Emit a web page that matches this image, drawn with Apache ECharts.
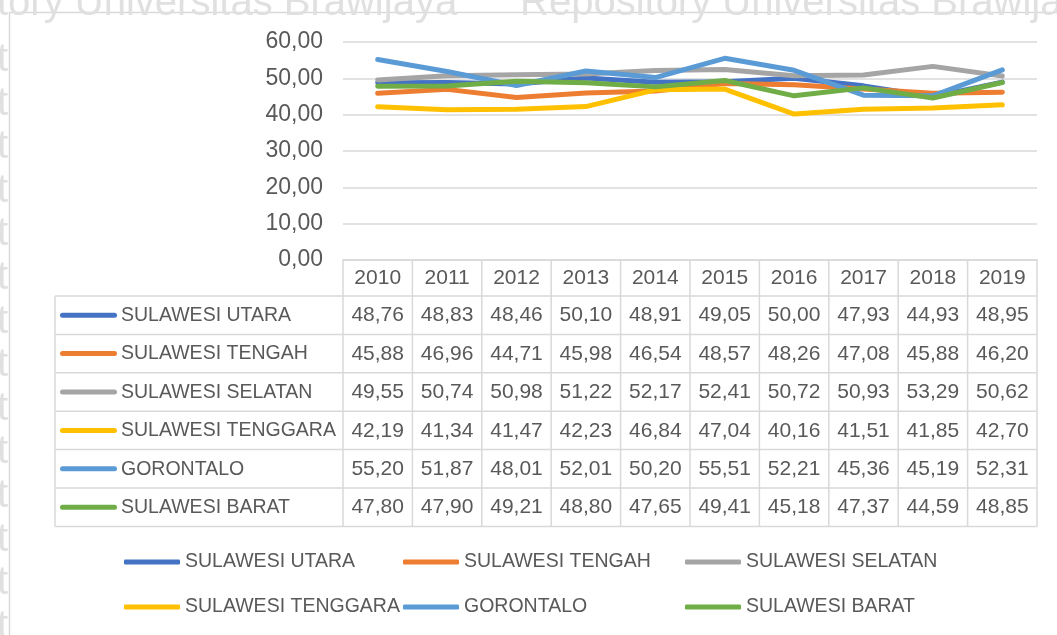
<!DOCTYPE html>
<html>
<head>
<meta charset="utf-8">
<script src="https://cdn.jsdelivr.net/npm/echarts@6/dist/echarts.min.js"></script>
<style>html,body{margin:0;padding:0;background:#fff;}#c{width:1057px;height:635px;}</style>
</head>
<body>
<div id="c"></div>
<script>
// ---- data ----
const years = ['2010','2011','2012','2013','2014','2015','2016','2017','2018','2019'];
const seriesNames = ['SULAWESI UTARA','SULAWESI TENGAH','SULAWESI SELATAN','SULAWESI TENGGARA','GORONTALO','SULAWESI BARAT'];
const sulawesiUtara    = [48.76, 48.83, 48.46, 50.10, 48.91, 49.05, 50.00, 47.93, 44.93, 48.95];
const sulawesiTengah   = [45.88, 46.96, 44.71, 45.98, 46.54, 48.57, 48.26, 47.08, 45.88, 46.20];
const sulawesiSelatan  = [49.55, 50.74, 50.98, 51.22, 52.17, 52.41, 50.72, 50.93, 53.29, 50.62];
const sulawesiTenggara = [42.19, 41.34, 41.47, 42.23, 46.84, 47.04, 40.16, 41.51, 41.85, 42.70];
const gorontalo        = [55.20, 51.87, 48.01, 52.01, 50.20, 55.51, 52.21, 45.36, 45.19, 52.31];
const sulawesiBarat    = [47.80, 47.90, 49.21, 48.80, 47.65, 49.41, 45.18, 47.37, 44.59, 48.85];
const yTicks = [0, 10, 20, 30, 40, 50, 60];
const watermarkTop = ['tory Universitas Brawijaya', 'Repository Universitas Brawijaya'];

const seriesValues = [sulawesiUtara, sulawesiTengah, sulawesiSelatan, sulawesiTenggara, gorontalo, sulawesiBarat];
const colors = ['#4472C4','#ED7D31','#A5A5A5','#FFC000','#5B9BD5','#70AD47'];

// ---- layout ----
const FAM = "'Liberation Sans', Arial, sans-serif";
const TXT = '#595959';
const LINE = '#d9d9d9';
const WM = '#e0e0e0';
const GRID_LEFT = 343, GRID_RIGHT_X = 1037, GRID_TOP = 42, GRID_H = 218;
const GRID_BOTTOM_Y = GRID_TOP + GRID_H;
const TABLE_LEFT = 55, TABLE_TOP = 296, ROW_H = 38.4;
const colW = (GRID_RIGHT_X - GRID_LEFT) / years.length;
const TABLE_BOTTOM = TABLE_TOP + ROW_H * seriesNames.length;
const fmt = v => v.toFixed(2).replace('.', ',');

const g = [];
// watermark
g.push({type:'text', x:-3, y:4, silent:true, style:{text:watermarkTop[0], font:'40px ' + FAM, fill:WM, textVerticalAlign:'middle'}});
g.push({type:'text', x:520, y:4, silent:true, style:{text:watermarkTop[1], font:'40px ' + FAM, fill:WM, textVerticalAlign:'middle'}});
for (let k = 0; k < 14; k++) {
  g.push({type:'text', x:-3, y:60 + 43.6*k, silent:true, style:{text:'t', font:'40px ' + FAM, fill:WM, textVerticalAlign:'middle'}});
}
// chart border
g.push({type:'rect', silent:true, shape:{x:9.5, y:12.5, width:1100, height:700}, style:{fill:'#fff', stroke:LINE, lineWidth:1.5}, z:-1});

// table grid lines
for (let r = 0; r <= seriesNames.length; r++) {
  const y = TABLE_TOP + r*ROW_H;
  g.push({type:'line', silent:true, shape:{x1:TABLE_LEFT, y1:y, x2:GRID_RIGHT_X, y2:y}, style:{stroke:LINE, lineWidth:1.5}});
}
g.push({type:'line', silent:true, shape:{x1:TABLE_LEFT, y1:TABLE_TOP, x2:TABLE_LEFT, y2:TABLE_BOTTOM}, style:{stroke:LINE, lineWidth:1.5}});
for (let i = 0; i <= years.length; i++) {
  const x = GRID_LEFT + i*colW;
  g.push({type:'line', silent:true, shape:{x1:x, y1:GRID_BOTTOM_Y, x2:x, y2:TABLE_BOTTOM}, style:{stroke:LINE, lineWidth:1.5}});
}
// table rows
seriesNames.forEach((name, r) => {
  const cy = TABLE_TOP + (r + 0.5)*ROW_H;
  g.push({type:'line', silent:true, shape:{x1:62.5, y1:cy, x2:114.5, y2:cy}, style:{stroke:colors[r], lineWidth:5, lineCap:'round'}});
  g.push({type:'text', silent:true, x:121, y:cy + 0.5, style:{text:name, font:'19.5px ' + FAM, fill:TXT, textAlign:'left', textVerticalAlign:'middle'}});
  seriesValues[r].forEach((v, i) => {
    g.push({type:'text', silent:true, x:GRID_LEFT + (i + 0.5)*colW, y:cy + 0.5, style:{text:fmt(v), font:'21px ' + FAM, fill:TXT, textAlign:'center', textVerticalAlign:'middle'}});
  });
});

// bottom legends
const legendPos = [[124,551],[403,551],[685,551],[124,596],[403,596],[685,596]];
const legends = seriesNames.map((n, i) => ({
  data:[n], left:legendPos[i][0], top:legendPos[i][1], padding:0,
  icon:'roundRect', itemWidth:56, itemHeight:5,
  textStyle:{color:TXT, fontSize:19.5, fontFamily:FAM, lineHeight:22},
  selectedMode:false
}));

const chart = echarts.init(document.getElementById('c'), null, {renderer:'canvas'});
chart.setOption({
  animation:false,
  backgroundColor:'#fff',
  color:colors,
  legend:legends,
  grid:{left:GRID_LEFT, top:GRID_TOP, width:GRID_RIGHT_X - GRID_LEFT, height:GRID_H},
  xAxis:{
    type:'category', data:years, boundaryGap:true,
    axisLine:{show:true, lineStyle:{color:LINE, width:1.5}},
    axisTick:{show:false},
    axisLabel:{color:TXT, fontSize:21, fontFamily:FAM, margin:18, verticalAlign:'middle', interval:0}
  },
  yAxis:{
    type:'value', min:yTicks[0], max:yTicks[yTicks.length-1], interval:yTicks[1]-yTicks[0],
    axisLine:{show:false}, axisTick:{show:false},
    axisLabel:{color:TXT, fontSize:23, fontFamily:FAM, margin:20, formatter:v => fmt(v)},
    splitLine:{lineStyle:{color:LINE, width:1.5}}
  },
  graphic:{elements:g},
  series:seriesNames.map((n, i) => ({
    name:n, type:'line', data:seriesValues[i], symbol:'none', showSymbol:false,
    lineStyle:{width:5, cap:'round', join:'round', color:colors[i]},
    itemStyle:{color:colors[i]}
  }))
});
</script>
</body>
</html>
